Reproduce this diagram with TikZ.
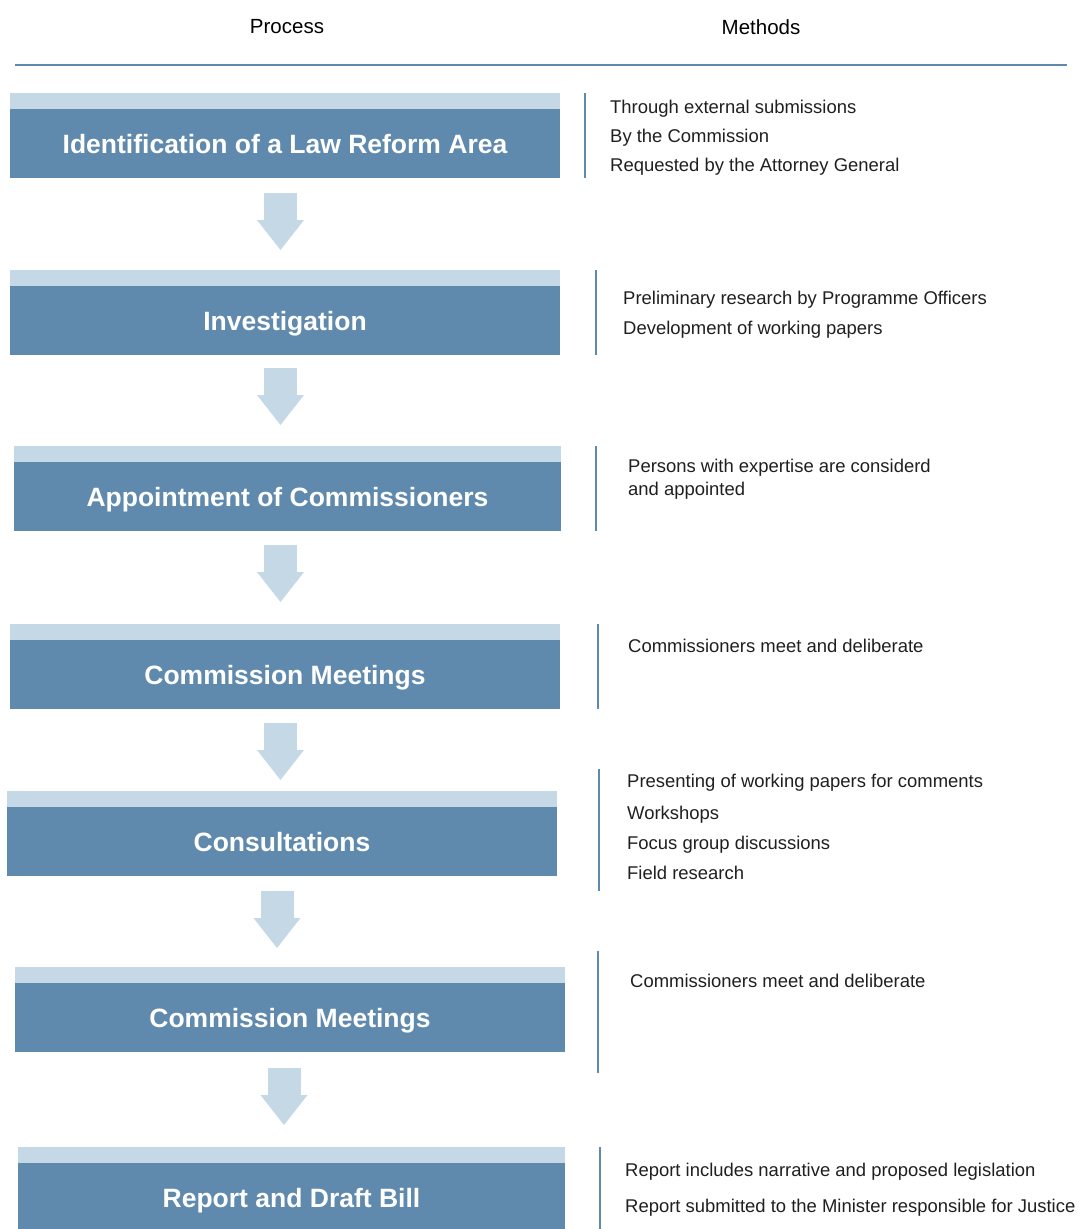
\documentclass[tikz,border=0pt]{standalone}
\usepackage{fontspec}
\setmainfont{Liberation Sans}
\usetikzlibrary{positioning}

\definecolor{stepblue}{HTML}{5F8AAD}
\definecolor{steplight}{HTML}{C5D8E6}

\begin{document}
\begin{tikzpicture}[
  x=1pt, y=-1pt,
  stagebox/.style={
    fill=stepblue, minimum width=550pt, minimum height=69pt,
    inner sep=0pt, text=white, text height=19pt, text depth=0pt,
    font=\fontsize{26.5}{30}\selectfont\bfseries
  },
  method/.style={anchor=west, inner sep=0pt, text=black!88,
    text height=19pt, text depth=4pt, font=\fontsize{18.45}{21}\selectfont},
  head/.style={font=\fontsize{20.5}{24}\selectfont},
  sepline/.style={stepblue, line width=2pt},
  downarr/.pic={
    \fill[steplight] (-16.5,0) rectangle (16.5,27);
    \fill[steplight] (-23.5,27) -- (23.5,27) -- (0,57) -- cycle;
  }
]
  \useasboundingbox (0,0) rectangle (1081,1229);

  % Column heads
  \node[head] (hproc) at (287,27) {Process};
  \node[head] (hmeth) at (761,27) {Methods};
  \draw[stepblue, line width=2pt] (15,65) -- (1067,65);

  % Process stages
  \node[stagebox] (idn) at (285,143.5) {Identification of a Law Reform Area};
  \node[stagebox] (inv) at (285,320.5) {Investigation};
  \node[stagebox, minimum width=547pt] (apt) at (287.5,496.5) {Appointment of Commissioners};
  \node[stagebox] (cm1) at (285,674.5) {Commission Meetings};
  \node[stagebox] (con) at (282,841.5) {Consultations};
  \node[stagebox] (cm2) at (290,1017.5) {Commission Meetings};
  \node[stagebox, minimum width=547pt] (rep) at (291.5,1197.5) {Report and Draft Bill};

  % Light strips on top of the stages
  \fill[steplight] (idn.north west) rectangle ([yshift=16pt]idn.north east);
  \fill[steplight] (inv.north west) rectangle ([yshift=16pt]inv.north east);
  \fill[steplight] (apt.north west) rectangle ([yshift=16pt]apt.north east);
  \fill[steplight] (cm1.north west) rectangle ([yshift=16pt]cm1.north east);
  \fill[steplight] (con.north west) rectangle ([yshift=16pt]con.north east);
  \fill[steplight] (cm2.north west) rectangle ([yshift=16pt]cm2.north east);
  \fill[steplight] (rep.north west) rectangle ([yshift=16pt]rep.north east);

  % Block arrows between stages
  \pic at (280.5,193) {downarr};
  \pic at (280.5,368) {downarr};
  \pic at (280.5,545) {downarr};
  \pic at (280.5,723) {downarr};
  \pic at (277,891) {downarr};
  \pic at (284,1068) {downarr};

  % Method separators
  \draw[sepline] (585,93) -- (585,178);
  \draw[sepline] (596,270) -- (596,355);
  \draw[sepline] (596,446) -- (596,531);
  \draw[sepline] (598,624) -- (598,709);
  \draw[sepline] (599,769) -- (599,891);
  \draw[sepline] (598,951) -- (598,1073);
  \draw[sepline] (600,1147) -- (600,1229);

  % Methods
  \node[method] (m11) at (610,106) {Through external submissions};
  \node[method] (m12) at (610,135) {By the Commission};
  \node[method] (m13) at (610,164) {Requested by the Attorney General};

  \node[method] (m21) at (623,297) {Preliminary research by Programme Officers};
  \node[method] (m22) at (623,327) {Development of working papers};

  \node[method] (m31) at (628,465) {Persons with expertise are considerd};
  \node[method] (m32) at (628,488) {and appointed};

  \node[method] (m41) at (628,645) {Commissioners meet and deliberate};

  \node[method] (m51) at (627,780) {Presenting of working papers for comments};
  \node[method] (m52) at (627,812) {Workshops};
  \node[method] (m53) at (627,842) {Focus group discussions};
  \node[method] (m54) at (627,872) {Field research};

  \node[method] (m61) at (630,980) {Commissioners meet and deliberate};

  \node[method] (m71) at (625,1169) {Report includes narrative and proposed legislation};
  \node[method] (m72) at (625,1205) {Report submitted to the Minister responsible for Justice};

\end{tikzpicture}
\end{document}
